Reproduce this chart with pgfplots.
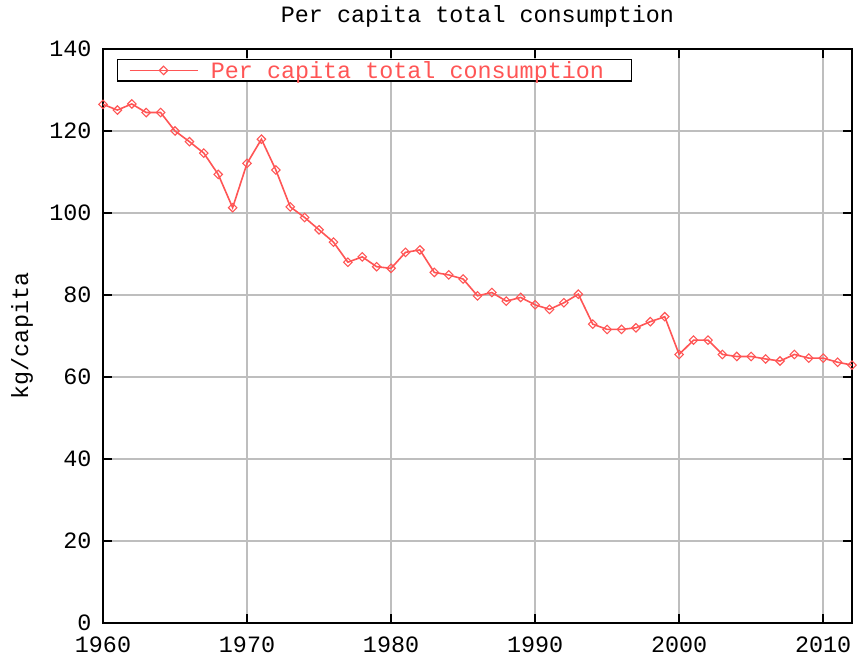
\documentclass[border=0pt]{standalone}
\usepackage{fontspec}
\setmonofont{Liberation Mono}
\usepackage{pgfplots}
\pgfplotsset{compat=1.18}
\definecolor{linered}{RGB}{255,85,85}
\definecolor{gridgray}{RGB}{190,190,190}
\pgfplotstableread{
year value
1960 126.5
1961 125.1
1962 126.6
1963 124.5
1964 124.5
1965 120.0
1966 117.4
1967 114.6
1968 109.4
1969 101.3
1970 112.1
1971 118.0
1972 110.5
1973 101.5
1974 98.9
1975 95.9
1976 92.9
1977 88.0
1978 89.3
1979 86.9
1980 86.5
1981 90.4
1982 91.0
1983 85.5
1984 84.9
1985 83.9
1986 79.8
1987 80.6
1988 78.5
1989 79.4
1990 77.6
1991 76.5
1992 78.1
1993 80.2
1994 72.9
1995 71.6
1996 71.6
1997 72.0
1998 73.5
1999 74.7
2000 65.5
2001 69.0
2002 69.0
2003 65.5
2004 65.0
2005 65.0
2006 64.4
2007 63.9
2008 65.5
2009 64.6
2010 64.6
2011 63.6
2012 62.9
}\datatable
\begin{document}
\begin{tikzpicture}[font=\ttfamily\fontsize{23.4}{27}\selectfont]
\begin{axis}[
  name=ax,
  scale only axis,
  width=749pt, height=574pt,
  xmin=1960, xmax=2012,
  ymin=0, ymax=140,
  xtick={1960,1970,1980,1990,2000,2010},
  ytick={0,20,40,60,80,100,120,140},
  /pgf/number format/assume math mode=true,
  xticklabel style={/pgf/number format/1000 sep={}, yshift=-10pt},
  yticklabel style={xshift=-8pt},
  tick align=inside,
  major tick length=9pt,
  tick style={black, line width=1.5pt},
  axis line style={black, line width=1.5pt},
  grid=major,
  major grid style={gridgray, line width=1.5pt},
  title={Per capita total consumption},
  title style={at={(0.5,1)}, anchor=south, yshift=12pt},
  ylabel={kg/capita},
  ylabel style={at={(axis description cs:-0.108,0.5)}, anchor=center},
  legend style={at={(0,1)}, anchor=north west, xshift=14pt, yshift=-10pt,
    draw=black, line width=1.5pt, inner xsep=11pt, inner ysep=0pt,
    text=linered, font=\ttfamily\fontsize{23.4}{27}\selectfont,
    nodes={inner sep=1.5pt}},
  legend cell align=left,
  legend image code/.code={
    \draw[mark repeat=2,mark phase=2,#1] plot coordinates {(0pt,0pt)(34pt,0pt)(68pt,0pt)};
  },
]
\addplot[color=linered, line width=1.6pt, mark=square, mark size=3pt,
  mark options={solid, rotate=45, line width=1.1pt}] table[x=year, y=value] {\datatable};
\addlegendentry{\hspace*{11pt}Per capita total consumption\hspace*{15pt}}
\end{axis}
\pgfresetboundingbox
\path[use as bounding box] ([xshift=-103pt,yshift=-34pt]ax.south west) rectangle ([xshift=5pt,yshift=49pt]ax.north east);
\end{tikzpicture}
\end{document}
